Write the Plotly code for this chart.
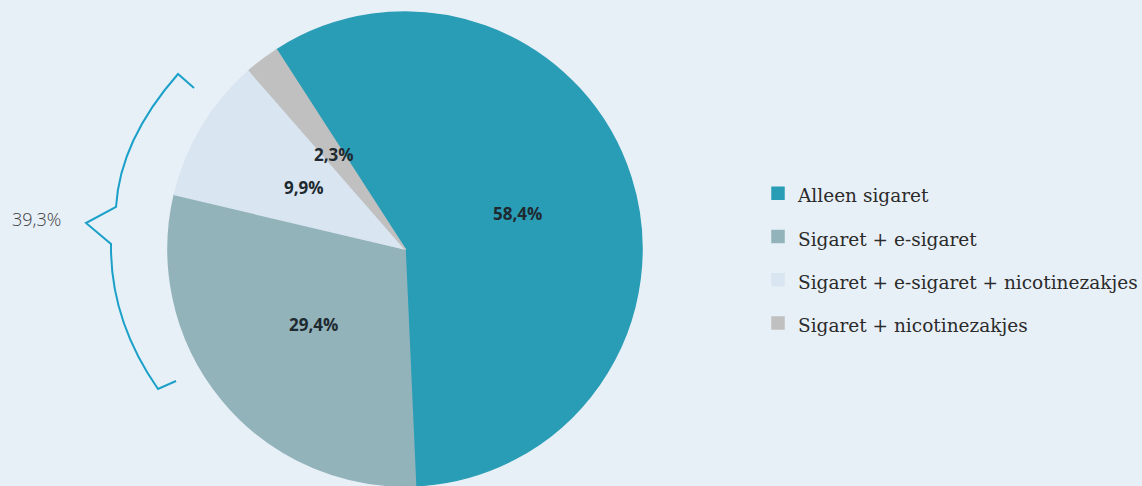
import numpy as np
import plotly.graph_objects as go

# ---- data ----
labels = ["Alleen sigaret", "Sigaret + e-sigaret",
          "Sigaret + e-sigaret + nicotinezakjes", "Sigaret + nicotinezakjes"]
values = [58.4, 29.4, 9.9, 2.3]
value_text = ["58,4%", "29,4%", "9,9%", "2,3%"]
bracket_label = "39,3%"

# ---- style ----
colors = ["#2a9db6", "#93b3bb", "#d9e5f1", "#c0c0c0"]
bg = "#e8f0f7"
W, H = 1142, 486
ML, MR, MT, MB = 0, 0, 12, 0
PW, PH = W - ML - MR, H - MT - MB
cx = 405.0
R = min(PW, PH) / 2.0
cy = MT + PH / 2.0
rotation = -32.8


def to_paper(px, py):
    return (px - ML) / PW, 1 - (py - MT) / PH


fig = go.Figure()
fig.add_trace(go.Pie(
    labels=[f'<span style="font-size:18.5px;baseline-shift:3px">{l}</span>' for l in labels],
    values=values,
    sort=False,
    direction="clockwise",
    rotation=rotation,
    marker=dict(colors=colors, line=dict(color=colors, width=1.5)),
    textinfo="none",
    hoverinfo="label+percent",
    domain=dict(x=[(cx - R - ML) / PW, (cx + R - ML) / PW], y=[0, 1]),
    showlegend=True,
))

# slice labels at mid-angle, half radius
total = float(sum(values))
cum = 0.0
annotations = []
for v, t in zip(values, value_text):
    theta = np.deg2rad(rotation + 360.0 * (cum + v / 2.0) / total)
    px = cx + 0.5 * R * np.sin(theta)
    py = cy - 0.5 * R * np.cos(theta)
    xp, yp = to_paper(px, py)
    annotations.append(dict(x=xp, y=yp, xref="paper", yref="paper", text=t,
                            showarrow=False, xanchor="center", yanchor="middle",
                            font=dict(family="Open Sans", size=17, color="#1e2a30", weight="bold")))
    cum += v

# bracket label
bx, by = to_paper(37, 219)
annotations.append(dict(x=bx, y=by, xref="paper", yref="paper", text=bracket_label,
                        showarrow=False, xanchor="center", yanchor="middle",
                        font=dict(family="Open Sans", size=18, color="#3c3c3c", weight=300)))

# curly brace path (pixel -> paper)
def P(px, py):
    x, y = to_paper(px, py)
    return f"{x:.5f},{y:.5f}"

path = (f"M{P(194,88)} L{P(178,74)} Q{P(120,140)} {P(116,207)} "
        f"L{P(86,223)} L{P(111,244)} Q{P(110,320)} {P(158,389)} L{P(176,381)}")

fig.update_layout(
    width=W, height=H,
    margin=dict(l=ML, r=MR, t=MT, b=MB, pad=0, autoexpand=False),
    paper_bgcolor=bg, plot_bgcolor=bg,
    annotations=annotations,
    shapes=[dict(type="path", path=path, xref="paper", yref="paper",
                 line=dict(color="#1ba1c9", width=2))],
    legend=dict(x=(758 - ML) / PW, xanchor="left",
                y=to_paper(0, 258.5)[1], yanchor="middle",
                font=dict(family="DejaVu Serif", size=31, color="#2b2b2b"),
                bgcolor="rgba(0,0,0,0)", traceorder="normal"),
)

post = ("document.documentElement.style.overflow='hidden';"
        "document.body.style.overflow='hidden';"
        "document.body.style.margin='0';")
fig.write_html("out.html", post_script=post, config={"displayModeBar": False})
